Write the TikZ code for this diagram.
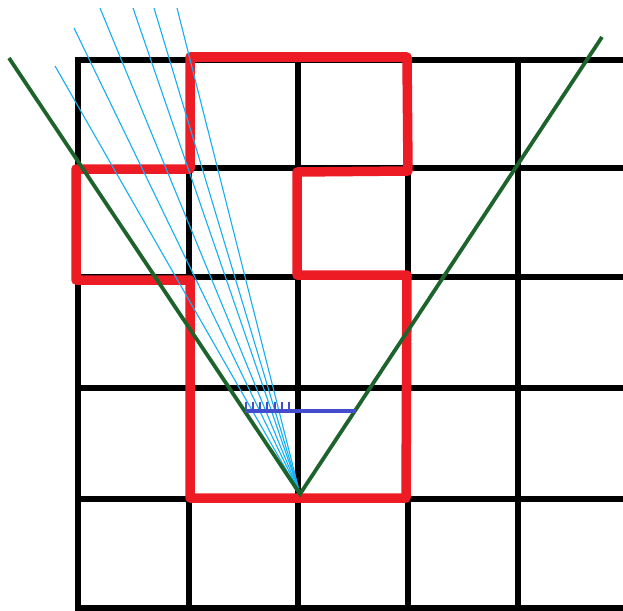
\documentclass[tikz,border=0pt]{standalone}
\definecolor{wallred}{RGB}{237,28,36}
\definecolor{raycyan}{RGB}{20,175,240}
\definecolor{edgegreen}{RGB}{28,100,44}
\definecolor{barblue}{RGB}{68,76,206}
\begin{document}
\begin{tikzpicture}[x=1pt,y=-1pt,
  gridline/.style={line width=6pt,black},
  wall/.style={line width=9.5pt,draw=wallred,line join=round,line cap=round},
  ray/.style={line width=1.1pt,draw=raycyan},
  edgeray/.style={line width=3.8pt,draw=edgegreen},
  bar/.style={line width=3.8pt,draw=barblue},
  tick/.style={line width=2.6pt,draw=barblue}]
\useasboundingbox (0,0) rectangle (623,610);
\fill[white] (0,0) rectangle (623,610);
% grid
\foreach \x in {78,189,298,408,518} \draw[gridline] (\x,57) -- (\x,614);
\foreach \y in {60,168,277,388,499,608} \draw[gridline] (75,\y) -- (630,\y);
% red outline
\draw[wall] (190,57) -- (407,57) -- (408,171) -- (297,172) -- (297,275) -- (407,275)
  -- (406,498) -- (190,498) -- (190,280) -- (76,280) -- (76,169) -- (190,169) -- cycle;
% vertex
\coordinate (v) at (300,494);
\foreach \p in {(55,66),(74,28),(100,8),(133,8),(154,8),(177,8)} \draw[ray] (v) -- \p;
% green edge rays
\coordinate (gl) at (9,58);
\coordinate (gr) at (602,37);
\draw[edgeray] (gl) -- (v) -- (gr);
% blue bar with ticks
\coordinate (b1) at (245,411);
\coordinate (b2) at (356,411);
\draw[bar] (b1) -- (b2);
\foreach \x in {246,253,260,267,275,282,289} \draw[tick] (\x,412) -- (\x,402);
\end{tikzpicture}
\end{document}
